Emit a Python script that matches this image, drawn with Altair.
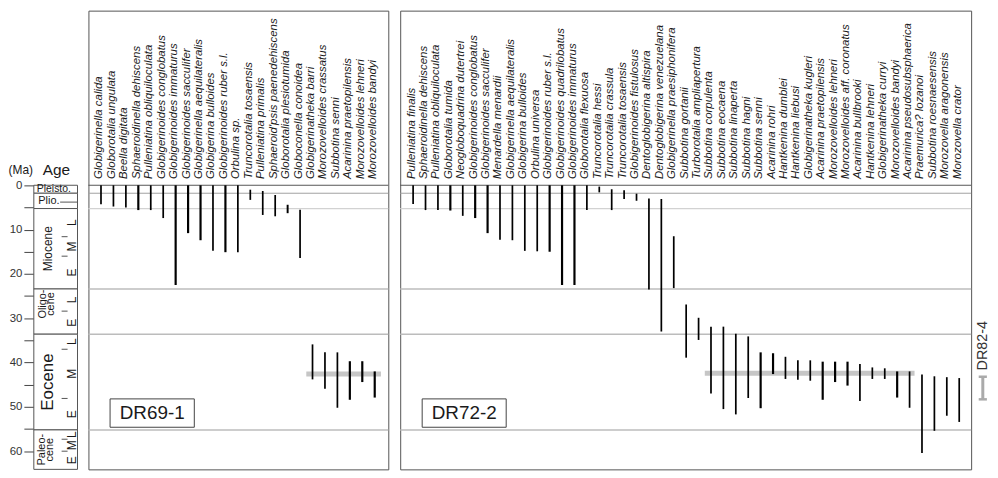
import altair as alt
import pandas as pd

# ---------------- data ----------------
left_species = [
    "Globigerinella calida", "Globorotalia ungulata", "Beella digitata",
    "Sphaeroidinella dehiscens", "Pulleniatina obliquiloculata",
    "Globigerinoides conglobatus", "Globigerinoides immaturus",
    "Globigerinoides sacculifer", "Globigerinella aequilateralis",
    "Globigerina bulloides", "Globigerinoides ruber s.l.", "Orbulina sp.",
    "Truncorotalia tosaensis", "Pulleniatina primalis",
    "Sphaeroid'psis paenedehiscens", "Globorotalia plesiotumida",
    "Globoconella conoidea", "Globigerinatheka barri",
    "Morozovelloides crassatus", "Subbotina senni",
    "Acarinina praetopilensis", "Morozovelloides lehneri",
    "Morozovelloides bandyi",
]
left_top = [0, 0, 0, 0, 0, 0, 0, 0, 0, 0, 0, 0, 1.0, 1.3, 2.2, 4.4, 5.5,
            35.9, 37.7, 37.7, 39.7, 39.7, 42.0]
left_base = [4.3, 4.8, 5.0, 5.6, 5.6, 7.4, 22.5, 10.8, 12.4, 14.8, 15.1, 15.1,
             3.3, 6.7, 7.0, 6.3, 16.4, 43.8, 45.9, 50.2, 48.4, 44.4, 47.9]
left_weight = ["n", "n", "n", "t", "n", "n", "t", "t", "t", "n", "t", "n",
               "n", "n", "n", "m", "n", "n", "n", "n", "t", "t", "t"]

right_species = [
    "Pulleniatina finalis", "Sphaeroidinella dehiscens",
    "Pulleniatina obliquiloculata", "Globorotalia tumida",
    "Neogloboquadrina dutertrei", "Globigerinoides conglobatus",
    "Globigerinoides sacculifer", "Menardella menardii",
    "Globigerinella aequilateralis", "Globigerina bulloides",
    "Orbulina universa", "Globigerinoides ruber s.l.",
    "Globigerinoides quadrilobatus", "Globigerinoides immaturus",
    "Globorotalia flexuosa", "Truncorotalia hessi", "Truncorotalia crassula",
    "Truncorotalia tosaensis", "Globigerinoides fistulosus",
    "Dentoglobigerina altispira", "Dentoglobigerina venezuelana",
    "Globigerinella praesiphonifera", "Subbotina gortanii",
    "Turborotalia ampliapertura", "Subbotina corpulenta", "Subbotina eocaena",
    "Subbotina linaperta", "Subbotina hagni", "Subbotina senni",
    "Acarinina rohri", "Hantkenina dumblei", "Hantkenina liebusi",
    "Globigerinatheka kugleri", "Acarinina praetopilensis",
    "Morozovelloides lehneri", "Morozovelloides aff. coronatus",
    "Acarinina bullbrooki", "Hantkenina lehneri", "Globigerinatheka curryi",
    "Morozovelloides bandyi", "Acarinina pseudosubsphaerica",
    "Praemurica? lozanoi", "Subbotina roesnaesensis",
    "Morozovella aragonensis", "Morozovella crator",
]
right_top = [0, 0, 0, 0, 0, 0, 0, 0, 0, 0, 0, 0, 0, 0, 0, 0.3, 0.9, 1.1, 1.9,
             3.0, 3.1, 11.5, 26.9, 29.9, 31.9, 31.9, 33.5, 34.1, 37.7, 37.9,
             38.7, 39.5, 39.5, 39.8, 39.8, 39.8, 40.3, 41.1, 41.3, 42.0, 42.0,
             42.7, 43.1, 43.3, 43.5]
right_base = [4.25, 5.6, 5.6, 5.7, 6.9, 7.4, 10.8, 12.3, 12.4, 14.8, 14.9, 15.0,
              22.5, 22.5, 5.6, 1.6, 5.6, 3.1, 3.5, 23.5, 33.0, 23.2, 38.9, 34.9,
              47.0, 50.5, 51.7, 48.0, 50.3, 42.6, 43.7, 43.9, 44.1, 48.4, 44.4,
              45.2, 48.7, 43.7, 43.7, 47.9, 50.2, 60.4, 55.4, 52.0, 53.4]
right_weight = ["n", "n", "n", "t", "n", "t", "t", "n", "n", "n", "n", "t",
                "t", "t", "n", "n", "n", "n", "n", "n", "n", "n", "n", "n",
                "n", "n", "n", "n", "t", "t", "n", "n", "n", "t", "t", "t",
                "n", "n", "n", "t", "n", "n", "n", "n", "n"]

# grey band (species-index range and age)
left_band = [16.5, 22.5, 42.6]
right_band = [23.5, 40.4, 42.4]

# DR82-4 age range
dr82_range = [43.2, 48.3]

# epochs: names and base ages
epoch_names = ["Pleisto.", "Plio.", "Miocene", "Oligocene", "Eocene", "Paleocene"]
epoch_base = [1.8, 5.25, 23.4, 33.6, 55.2]
sub_bounds = {"Miocene": [11.6, 16.0], "Oligocene": [28.4],
              "Eocene": [37.0, 48.1], "Paleocene": [57.3, 60.0]}
sub_names = {"Miocene": ["L", "M", "E"], "Oligocene": ["L", "E"],
             "Eocene": ["L", "M", "E"], "Paleocene": ["L", "M", "E"]}
pliocene_split = 3.8
age_ticks = list(range(0, 65, 5))

# ---------------- layout ----------------
Y_MIN, Y_MAX = -39.4, 64.1
H = 462
FONT = "Liberation Sans"

epoch_top = [0.0] + epoch_base
epoch_bot = epoch_base + [Y_MAX]


def Yq(field, axis=None):
    return alt.Y(field, type="quantitative",
                 scale=alt.Scale(domain=[Y_MIN, Y_MAX], reverse=True,
                                 nice=False, zero=False),
                 axis=axis)


def panel(species, top, base, weight, band, name, width, xdom, extra=None):
    n = len(species)
    df = pd.DataFrame({"i": list(range(n)), "species": species,
                       "top": top, "base": base, "w": weight,
                       "ly": [-1.4] * n})

    def Xq(field):
        return alt.X(field, type="quantitative",
                     scale=alt.Scale(domain=xdom, nice=False, zero=False),
                     axis=None)

    bdf = pd.DataFrame({"age": epoch_base,
                        "kind": ["a", "b"] + ["c"] * (len(epoch_base) - 2)})
    bounds = alt.Chart(bdf).mark_rule().encode(
        y=Yq("age"),
        color=alt.Color("kind:N", scale=alt.Scale(domain=["a", "b", "c"],
                        range=["#a0a0a0", "#d2d2d2", "#bcbcbc"]), legend=None),
        strokeWidth=alt.StrokeWidth("kind:N", scale=alt.Scale(
            domain=["a", "b", "c"], range=[1, 2.2, 1.2]), legend=None),
    )
    band_df = pd.DataFrame({"x0": [band[0]], "x1": [band[1]], "age": [band[2]]})
    band_l = alt.Chart(band_df).mark_rule(color="#c6c6c6", strokeWidth=5).encode(
        x=Xq("x0"), x2="x1:Q", y=Yq("age"))
    top_rule = alt.Chart(pd.DataFrame({"age": [0.0]})).mark_rule(
        color="#555555", strokeWidth=1).encode(y=Yq("age"))
    bars = alt.Chart(df).mark_rule(color="#000000").encode(
        x=Xq("i"), y=Yq("top"), y2="base:Q",
        strokeWidth=alt.StrokeWidth("w:N", scale=alt.Scale(
            domain=["n", "m", "t"], range=[1.3, 2.6, 3.7]), legend=None),
    )
    labels = alt.Chart(df).mark_text(
        angle=270, align="left", baseline="middle", fontSize=11.5,
        fontStyle="italic", font=FONT, color="#1a1a1a", dy=-1.5,
    ).encode(x=Xq("i"), y=Yq("ly"), text="species:N")
    box_df = pd.DataFrame({"t": [name], "x0": [0.73], "x1": [7.5],
                           "xm": [(0.73 + 7.5) / 2], "y0": [48.2], "y1": [54.6],
                           "ym": [51.45]})
    box = alt.Chart(box_df).mark_rect(
        fill="white", stroke="#444444", strokeWidth=1).encode(
        x=Xq("x0"), x2="x1:Q", y=Yq("y0"), y2="y1:Q")
    box_t = alt.Chart(box_df).mark_text(
        fontSize=19, font=FONT, color="#1a1a1a", baseline="middle").encode(
        x=Xq("xm"), y=Yq("ym"), text="t:N")
    layers = [bounds, band_l, top_rule, bars, labels, box, box_t]
    if extra is not None:
        layers += extra(Xq)
    return alt.layer(*layers).properties(
        width=width, height=H,
        view=alt.ViewBackground(stroke="#555555", strokeWidth=1))


def dr82_layers(Xq):
    xc = 45.9
    tdf = pd.DataFrame({"t": ["DR82-4"], "x": [xc], "y": [36.2]})
    t = alt.Chart(tdf).mark_text(
        angle=270, align="center", baseline="middle", fontSize=14.5,
        font=FONT, color="#333333").encode(x=Xq("x"), y=Yq("y"), text="t:N")
    rdf = pd.DataFrame({"x": [xc], "a": [dr82_range[0]], "b": [dr82_range[1]]})
    bar = alt.Chart(rdf).mark_rule(color="#aaaaaa", strokeWidth=3).encode(
        x=Xq("x"), y=Yq("a"), y2="b:Q")
    cdf = pd.DataFrame({"age": dr82_range, "x0": [xc - 0.33] * 2,
                        "x1": [xc + 0.33] * 2})
    caps = alt.Chart(cdf).mark_rule(color="#aaaaaa", strokeWidth=2.5).encode(
        x=Xq("x0"), x2="x1:Q", y=Yq("age"))
    return [bar, caps, t]


# ---------------- age column ----------------
CW = 44
AGE_AXIS = alt.Axis(
    values=age_ticks, labelExpr="datum.value % 10 === 0 ? datum.label : ''",
    tickSize=10, labelPadding=2, domain=False, grid=False, title=None,
    labelFontSize=11.5, labelFont=FONT, labelColor="#333333",
    tickColor="#444444", orient="left")


def Xc(field):
    return alt.X(field, type="quantitative",
                 scale=alt.Scale(domain=[0, CW], nice=False, zero=False),
                 axis=None)


def Yc(field):
    return Yq(field, axis=AGE_AXIS)


ep_df = pd.DataFrame({"name": epoch_names, "top": epoch_top, "bot": epoch_bot,
                      "x0": [0] * len(epoch_names), "x1": [CW] * len(epoch_names)})
rects = alt.Chart(ep_df).mark_rect(fill="white", stroke="#555555",
                                   strokeWidth=1).encode(
    x=Xc("x0"), x2="x1:Q", y=Yc("top"), y2="bot:Q")


def mid(a, b):
    return (a + b) / 2


rot_rows = [
    {"t": "Miocene", "x": 14.5, "y": mid(epoch_top[2], epoch_bot[2]), "s": 12},
    {"t": "Oligo-", "x": 9.5, "y": 26.8, "s": 11},
    {"t": "cene", "x": 17.0, "y": 26.8, "s": 11},
    {"t": "Eocene", "x": 14.5, "y": mid(epoch_top[4], epoch_bot[4]), "s": 17},
    {"t": "Paleo-", "x": 8.0, "y": mid(epoch_top[5], epoch_bot[5]), "s": 11},
    {"t": "cene", "x": 16.5, "y": mid(epoch_top[5], epoch_bot[5]), "s": 11},
]
rot_df = pd.DataFrame(rot_rows)
rot_text = alt.Chart(rot_df).mark_text(
    angle=270, align="center", baseline="middle", font=FONT,
    color="#1a1a1a").encode(
    x=Xc("x"), y=Yc("y"), text="t:N", size=alt.Size("s:Q", scale=None))

hz_df = pd.DataFrame({"t": epoch_names[:2], "x": [3.0, 4.5],
                      "y": [mid(epoch_top[0], epoch_bot[0]) + 0.05,
                            pliocene_split - 0.3],
                      "s": [10.5, 11]})
hz_text = alt.Chart(hz_df).mark_text(
    align="left", baseline="middle", font=FONT,
    color="#1a1a1a").encode(x=Xc("x"), y=Yc("y"), text="t:N",
                            size=alt.Size("s:Q", scale=None))
plio_tick = alt.Chart(pd.DataFrame({"age": [pliocene_split], "x0": [26.5],
                                    "x1": [CW]})).mark_rule(
    color="#555555").encode(x=Xc("x0"), x2="x1:Q", y=Yc("age"))

sub_tick_rows, sub_lab_rows = [], []
for k, ep in enumerate(epoch_names):
    if ep not in sub_bounds:
        continue
    edges = [epoch_top[k]] + sub_bounds[ep] + [epoch_bot[k]]
    for b in sub_bounds[ep]:
        sub_tick_rows.append({"age": b, "x0": 28.0, "x1": 34.0})
    for j, lab in enumerate(sub_names[ep]):
        sub_lab_rows.append({"t": lab, "y": mid(edges[j], edges[j + 1]),
                             "x": 38.0})
sub_ticks = alt.Chart(pd.DataFrame(sub_tick_rows)).mark_rule(
    color="#555555").encode(x=Xc("x0"), x2="x1:Q", y=Yc("age"))
sub_text = alt.Chart(pd.DataFrame(sub_lab_rows)).mark_text(
    angle=270, align="center", baseline="middle", fontSize=12, font=FONT,
    color="#1a1a1a").encode(x=Xc("x"), y=Yc("y"), text="t:N")

head_df = pd.DataFrame({"t": ["(Ma)", "Age"], "x": [-25.5, 9.0],
                        "y": [-3.4, -3.5], "s": [12, 15.5]})
head_t = alt.Chart(head_df).mark_text(
    align="left", baseline="middle", font=FONT, color="#1a1a1a").encode(
    x=Xc("x"), y=Yc("y"), text="t:N", size=alt.Size("s:Q", scale=None))

column = alt.layer(rects, plio_tick, sub_ticks, rot_text, hz_text, sub_text,
                   head_t).properties(
    width=CW, height=H,
    view=alt.ViewBackground(stroke="transparent", strokeWidth=0))

left = panel(left_species, left_top, left_base, left_weight, left_band,
             "DR69-1", 302, [-1.01, 23.09])
right = panel(right_species, right_top, right_base, right_weight, right_band,
              "DR72-2", 575, [-1.04, 44.96], extra=dr82_layers)

chart = alt.hconcat(column, left, right, spacing=8).properties(
    padding=0, background="white")

chart.save("out.html", embed_options={"renderer": "svg", "actions": False})
